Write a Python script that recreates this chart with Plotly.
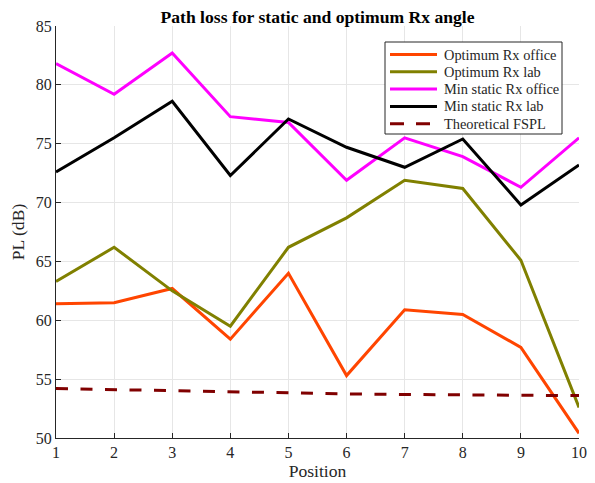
import plotly.graph_objects as go

positions = [1, 2, 3, 4, 5, 6, 7, 8, 9, 10]
opt_office = [61.4, 61.5, 62.7, 58.4, 64.0, 55.3, 60.9, 60.5, 57.7, 50.4]
opt_lab = [63.3, 66.2, 62.5, 59.5, 66.2, 68.7, 71.9, 71.2, 65.1, 52.6]
static_office = [81.8, 79.2, 82.7, 77.3, 76.8, 71.9, 75.5, 73.9, 71.3, 75.5]
static_lab = [72.6, 75.5, 78.6, 72.3, 77.1, 74.7, 73.0, 75.4, 69.8, 73.2]
fspl = [54.2, 54.1, 54.0, 53.9, 53.8, 53.75, 53.7, 53.65, 53.6, 53.6]

names = ["Optimum Rx office", "Optimum Rx lab", "Min static Rx office",
         "Min static Rx lab", "Theoretical FSPL"]
values = [opt_office, opt_lab, static_office, static_lab, fspl]
colors = ["#FF4500", "#808000", "#FF00FF", "#000000", "#800000"]
dashes = ["solid", "solid", "solid", "solid", "12px,12.5px"]

font = "Liberation Serif, Times New Roman, serif"
AX = "#262626"

# page offset (body margin) compensation
OFF = 8
W, H = 595 - OFF, 483 - OFF
# plot area in page pixels
PL, PR, PT, PB = 56, 579, 26, 438


def pxx(p):
    return (p - PL) / (PR - PL)


def pxy(p):
    return (PB - p) / (PB - PT)


fig = go.Figure()
for name, vals, color, dash in zip(names, values, colors, dashes):
    fig.add_trace(go.Scatter(x=positions, y=vals, mode="lines", name=name,
                             line=dict(color=color, width=3, dash=dash),
                             showlegend=False))

# legend drawn like MATLAB's compact legend
LB_L, LB_R, LB_T, LB_B = 385, 562, 42, 134
row0, row_step = 54.5, 17.3
shapes = [dict(type="rect", xref="paper", yref="paper",
               x0=pxx(LB_L), x1=pxx(LB_R), y0=pxy(LB_B), y1=pxy(LB_T),
               line=dict(color=AX, width=1), fillcolor="white", layer="above")]
annotations = []
for i, (name, color, dash) in enumerate(zip(names, colors, dashes)):
    yy = pxy(row0 + i * row_step)
    shapes.append(dict(type="line", xref="paper", yref="paper",
                       x0=pxx(390), x1=pxx(437), y0=yy, y1=yy,
                       line=dict(color=color, width=3,
                                 dash="14px,12px" if dash != "solid" else "solid"),
                       layer="above"))
    annotations.append(dict(xref="paper", yref="paper", x=pxx(442), y=yy,
                            text=name, showarrow=False, xanchor="left",
                            yanchor="middle",
                            font=dict(family=font, size=14.4, color=AX)))

fig.update_layout(
    width=W, height=H,
    margin=dict(l=PL - OFF, r=W - (PR - OFF), t=PT - OFF, b=H - (PB - OFF),
                autoexpand=False),
    paper_bgcolor="white", plot_bgcolor="white",
    font=dict(family=font, size=16, color=AX),
    title=dict(text="<b>Path loss for static and optimum Rx angle</b>",
               x=0.5, xanchor="center", xref="paper",
               y=1 - (17 - OFF) / H, yref="container", yanchor="middle",
               font=dict(family=font, size=17.6, color="black")),
    showlegend=False,
    shapes=shapes,
    annotations=annotations,
)
fig.update_xaxes(range=[1, 10], tickmode="linear", tick0=1, dtick=1,
                 showgrid=True, gridcolor="#e6e6e6", gridwidth=1,
                 showline=True, linecolor=AX, linewidth=1,
                 ticks="inside", ticklen=5, tickcolor=AX,
                 tickfont=dict(size=16), automargin=False,
                 title=dict(text="Position", font=dict(family=font, size=17.6), standoff=2),
                 zeroline=False, mirror=False)
fig.update_yaxes(range=[50, 85], tickmode="linear", tick0=50, dtick=5,
                 showgrid=True, gridcolor="#e6e6e6", gridwidth=1,
                 showline=True, linecolor=AX, linewidth=1,
                 ticks="inside", ticklen=5, tickcolor=AX,
                 tickfont=dict(size=16), automargin=False,
                 title=dict(text="PL (dB)", font=dict(family=font, size=17.6), standoff=6),
                 zeroline=False, mirror=False)

fig.write_html("out.html")
